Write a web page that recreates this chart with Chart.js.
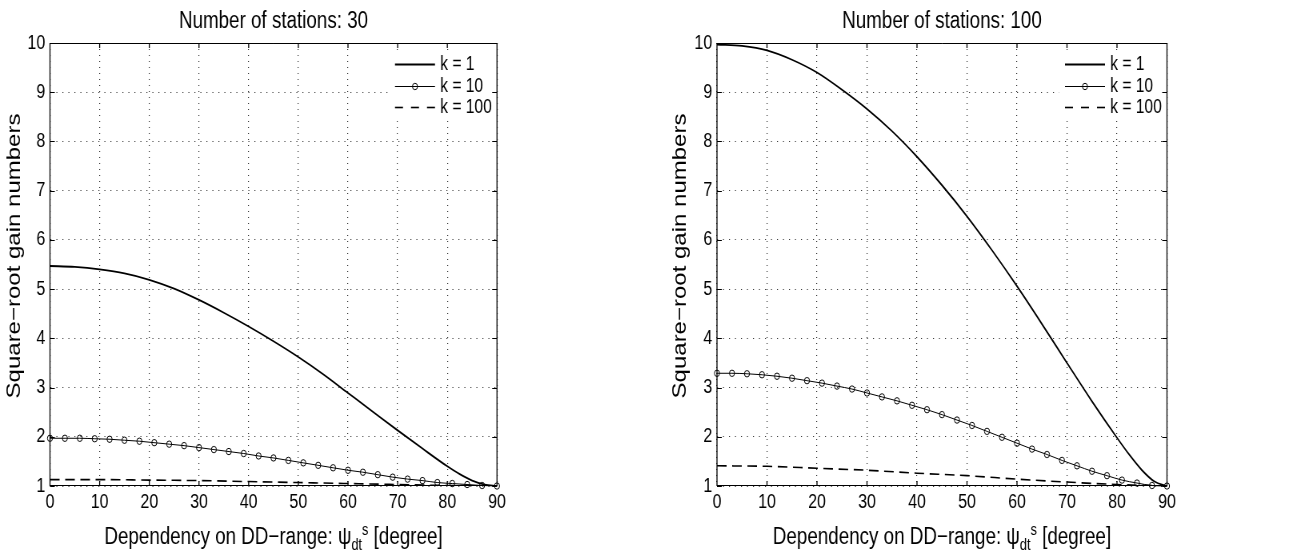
<!DOCTYPE html>
<html>
<head>
<meta charset="utf-8">
<title>Square-root gain numbers</title>
<script src="https://cdn.jsdelivr.net/npm/chart.js@4.4.1/dist/chart.umd.min.js"></script>
<style>
  html, body { margin: 0; padding: 0; background: #fff; }
  body { width: 1314px; height: 553px; position: relative; overflow: hidden; }
  /* each panel is laid out wide and squeezed horizontally, like the printed figure */
  .panel { position: absolute; top: 0; width: 821px; height: 553px; transform: scaleX(0.8); transform-origin: 0 0; }
  .panel canvas { display: block; }
</style>
</head>
<body>
<div class="panel" style="left:0"><canvas id="chart30" width="821" height="553"></canvas></div>
<div class="panel" style="left:657px"><canvas id="chart100" width="821" height="553"></canvas></div>
<script>
var FONT = "'Liberation Sans', Arial, Helvetica, sans-serif";

var panelTitles = ['Number of stations: 30', 'Number of stations: 100'];
var seriesLabels = ['k = 1', 'k = 10', 'k = 100'];
var yAxisTitle = 'Square\u2212root gain numbers';
// main text, subscript, superscript, tail
var xAxisTitleParts = ['Dependency on DD\u2212range: \u03c8', 'dt', 's', ' [degree]'];
var xTickValues = [0, 10, 20, 30, 40, 50, 60, 70, 80, 90];
var yTickValues = [1, 2, 3, 4, 5, 6, 7, 8, 9, 10];

// angles in degrees
var anglesLine = [0, 5, 10, 15, 20, 25, 30, 35, 40, 45, 50, 55, 60, 65, 70, 75, 80, 82.5, 85, 87.5, 90];
var anglesMarked = [0, 3, 6, 9, 12, 15, 18, 21, 24, 27, 30, 33, 36, 39, 42, 45, 48, 51, 54, 57, 60, 63, 66, 69, 72, 75, 78, 81, 84, 87, 90];
var anglesDashed = [0, 10, 20, 30, 40, 50, 60, 70, 80, 90];

// 30 stations
var st30k1 = [5.47, 5.45, 5.40, 5.32, 5.19, 5.01, 4.78, 4.52, 4.24, 3.94, 3.62, 3.27, 2.89, 2.51, 2.13, 1.76, 1.40, 1.24, 1.11, 1.03, 1.00];
var st30k10 = [1.97, 1.97, 1.97, 1.96, 1.95, 1.93, 1.91, 1.88, 1.85, 1.82,
               1.78, 1.74, 1.70, 1.66, 1.61, 1.57, 1.52, 1.47, 1.42, 1.37,
               1.32, 1.28, 1.23, 1.18, 1.14, 1.11, 1.07, 1.05, 1.03, 1.01, 1.00];
var st30k100 = [1.13, 1.13, 1.12, 1.11, 1.09, 1.07, 1.05, 1.03, 1.01, 1.00];

// 100 stations
var st100k1 = [9.97, 9.94, 9.85, 9.66, 9.40, 9.05, 8.66, 8.21, 7.69, 7.11, 6.48, 5.79, 5.06, 4.29, 3.50, 2.72, 1.98, 1.63, 1.32, 1.09, 1.00];
var st100k10 = [3.29, 3.29, 3.28, 3.26, 3.23, 3.19, 3.14, 3.09, 3.03, 2.97,
                2.89, 2.81, 2.73, 2.64, 2.55, 2.45, 2.34, 2.23, 2.11, 1.99,
                1.87, 1.75, 1.64, 1.52, 1.41, 1.30, 1.21, 1.12, 1.06, 1.01, 1.00];
var st100k100 = [1.41, 1.40, 1.36, 1.32, 1.26, 1.21, 1.14, 1.08, 1.03, 1.00];

var legendDash = [[], [], [10, 10]];

function pts(xs, ys) {
    return xs.map(function(x, i) { return { x: x, y: ys[i] }; });
}

// title, box, inward ticks, legend and axis titles drawn the matlab way
var axesDecor = {
    id: 'axesDecor',
    afterDatasetsDraw: function(chart, args, opts) {
        var ctx = chart.ctx;
        var a = chart.chartArea;
        var xs = chart.scales.x, ys = chart.scales.y;
        var top = Math.round(a.top) + 0.5, bottom = Math.round(a.bottom) - 0.5;
        var midX = (a.left + a.right) / 2;
        ctx.save();

        // legend
        var lx0 = a.right - 127.5, lx1 = a.right - 77.5, tx = a.right - 71;
        ctx.fillStyle = '#fff';
        ctx.fillRect(a.right - 135, a.top + 10, 132, 66);
        chart.data.datasets.forEach(function(ds, i) {
            var y = Math.round(a.top + 21 + i * 21.5) + 0.5;
            ctx.strokeStyle = '#000';
            ctx.lineWidth = ds.borderWidth;
            ctx.setLineDash(legendDash[i]);
            ctx.beginPath();
            ctx.moveTo(lx0, y);
            ctx.lineTo(lx1, y);
            ctx.stroke();
            ctx.setLineDash([]);
            if (ds.pointRadius > 0) {
                ctx.lineWidth = ds.pointBorderWidth;
                ctx.beginPath();
                ctx.arc((lx0 + lx1) / 2, y, ds.pointRadius, 0, 2 * Math.PI);
                ctx.stroke();
            }
            ctx.fillStyle = '#000';
            ctx.font = '19.5px ' + FONT;
            ctx.textBaseline = 'middle';
            ctx.textAlign = 'left';
            ctx.fillText(ds.label, tx, y);
        });

        // frame + y ticks
        ctx.strokeStyle = '#000';
        ctx.lineWidth = 1;
        ctx.beginPath();
        ctx.moveTo(a.left, top); ctx.lineTo(a.right, top);
        ctx.moveTo(a.left, bottom); ctx.lineTo(a.right, bottom);
        ys.ticks.forEach(function(t) {
            var y = Math.round(ys.getPixelForValue(t.value)) + 0.5;
            ctx.moveTo(a.left, y); ctx.lineTo(a.left + 6, y);
            ctx.moveTo(a.right, y); ctx.lineTo(a.right - 6, y);
        });
        ctx.stroke();

        // vertical edges and x ticks, a bit heavier since the squeeze thins them
        ctx.lineWidth = 1.3;
        ctx.beginPath();
        ctx.moveTo(a.left, a.top); ctx.lineTo(a.left, a.bottom);
        ctx.moveTo(a.right, a.top); ctx.lineTo(a.right, a.bottom);
        xs.ticks.forEach(function(t) {
            var x = xs.getPixelForValue(t.value);
            ctx.moveTo(x, a.top); ctx.lineTo(x, a.top + 5);
            ctx.moveTo(x, a.bottom); ctx.lineTo(x, a.bottom - 5);
        });
        ctx.stroke();

        ctx.fillStyle = '#000';
        ctx.textBaseline = 'alphabetic';

        // panel title, centred over the axes
        ctx.font = '23.5px ' + FONT;
        ctx.textAlign = 'center';
        ctx.fillText(opts.title, midX, 28);

        // y axis title
        ctx.save();
        ctx.translate(opts.yTitleX, opts.yTitleY);
        ctx.rotate(-Math.PI / 2);
        ctx.font = '24px ' + FONT;
        ctx.textAlign = 'center';
        ctx.fillText(yAxisTitle, 0, 0);
        ctx.restore();

        // x axis title with psi_dt^s
        var big = '23.5px ' + FONT, small = '16px ' + FONT;
        var segs = [
            { t: xAxisTitleParts[0], f: big, dy: 0 },
            { t: xAxisTitleParts[1], f: small, dy: 6 },
            { t: xAxisTitleParts[2], f: small, dy: -9 },
            { t: xAxisTitleParts[3], f: big, dy: 0 }
        ];
        var total = 0;
        segs.forEach(function(s) { ctx.font = s.f; s.w = ctx.measureText(s.t).width; total += s.w; });
        var x = midX - total / 2;
        ctx.textAlign = 'left';
        segs.forEach(function(s) {
            ctx.font = s.f;
            ctx.fillText(s.t, x, opts.xTitleY + s.dy);
            x += s.w;
        });

        ctx.restore();
    }
};

function makeChart(id, title, k1, k10, k100, plotLeft, plotRight, yTitleX) {
    var ctx = document.getElementById(id).getContext('2d');
    return new Chart(ctx, {
        type: 'line',
        data: {
            datasets: [
                {
                    label: seriesLabels[0],
                    data: pts(anglesLine, k1),
                    borderColor: '#000',
                    borderWidth: 1.8,
                    pointRadius: 0,
                    cubicInterpolationMode: 'monotone',
                    fill: false
                },
                {
                    label: seriesLabels[1],
                    data: pts(anglesMarked, k10),
                    borderColor: '#000',
                    borderWidth: 1,
                    pointRadius: 3.2,
                    pointBorderWidth: 1,
                    pointBorderColor: '#000',
                    pointBackgroundColor: 'rgba(0,0,0,0)',
                    cubicInterpolationMode: 'monotone',
                    clip: false,
                    fill: false
                },
                {
                    label: seriesLabels[2],
                    data: pts(anglesDashed, k100),
                    borderColor: '#000',
                    borderWidth: 1.6,
                    borderDash: [12, 7],
                    pointRadius: 0,
                    cubicInterpolationMode: 'monotone',
                    fill: false
                }
            ]
        },
        options: {
            responsive: false,
            animation: false,
            events: [],
            layout: {
                autoPadding: false,
                padding: { left: 0, right: 821 - plotRight, top: 43, bottom: 0 }
            },
            plugins: {
                legend: { display: false },
                tooltip: { enabled: false },
                title: { display: false },
                axesDecor: { title: title, yTitleX: yTitleX, yTitleY: 256, xTitleY: 544 }
            },
            scales: {
                x: {
                    type: 'linear',
                    min: 0,
                    max: 90,
                    afterBuildTicks: function(axis) {
                        axis.ticks = xTickValues.map(function(v) { return { value: v }; });
                    },
                    afterFit: function(scale) { scale.height = 67; },
                    ticks: {
                        color: '#000',
                        font: { family: FONT, size: 20 },
                        padding: 4,
                        maxRotation: 0
                    },
                    grid: { color: '#333', lineWidth: 1.2, drawTicks: false },
                    border: { display: false, dash: [1, 5] }
                },
                y: {
                    min: 1,
                    max: 10,
                    afterBuildTicks: function(axis) {
                        axis.ticks = yTickValues.map(function(v) { return { value: v }; });
                    },
                    afterFit: function(scale) { scale.width = plotLeft; },
                    ticks: {
                        color: '#000',
                        font: { family: FONT, size: 20 },
                        padding: 6
                    },
                    grid: { color: '#333', lineWidth: 1, drawTicks: false },
                    border: { display: false, dash: [1.25, 6.25] }
                }
            }
        },
        plugins: [axesDecor]
    });
}

makeChart('chart30', panelTitles[0], st30k1, st30k10, st30k100, 62.5, 621.25, 25);
makeChart('chart100', panelTitles[1], st100k1, st100k10, st100k100, 75, 637.5, 36);
</script>
</body>
</html>
